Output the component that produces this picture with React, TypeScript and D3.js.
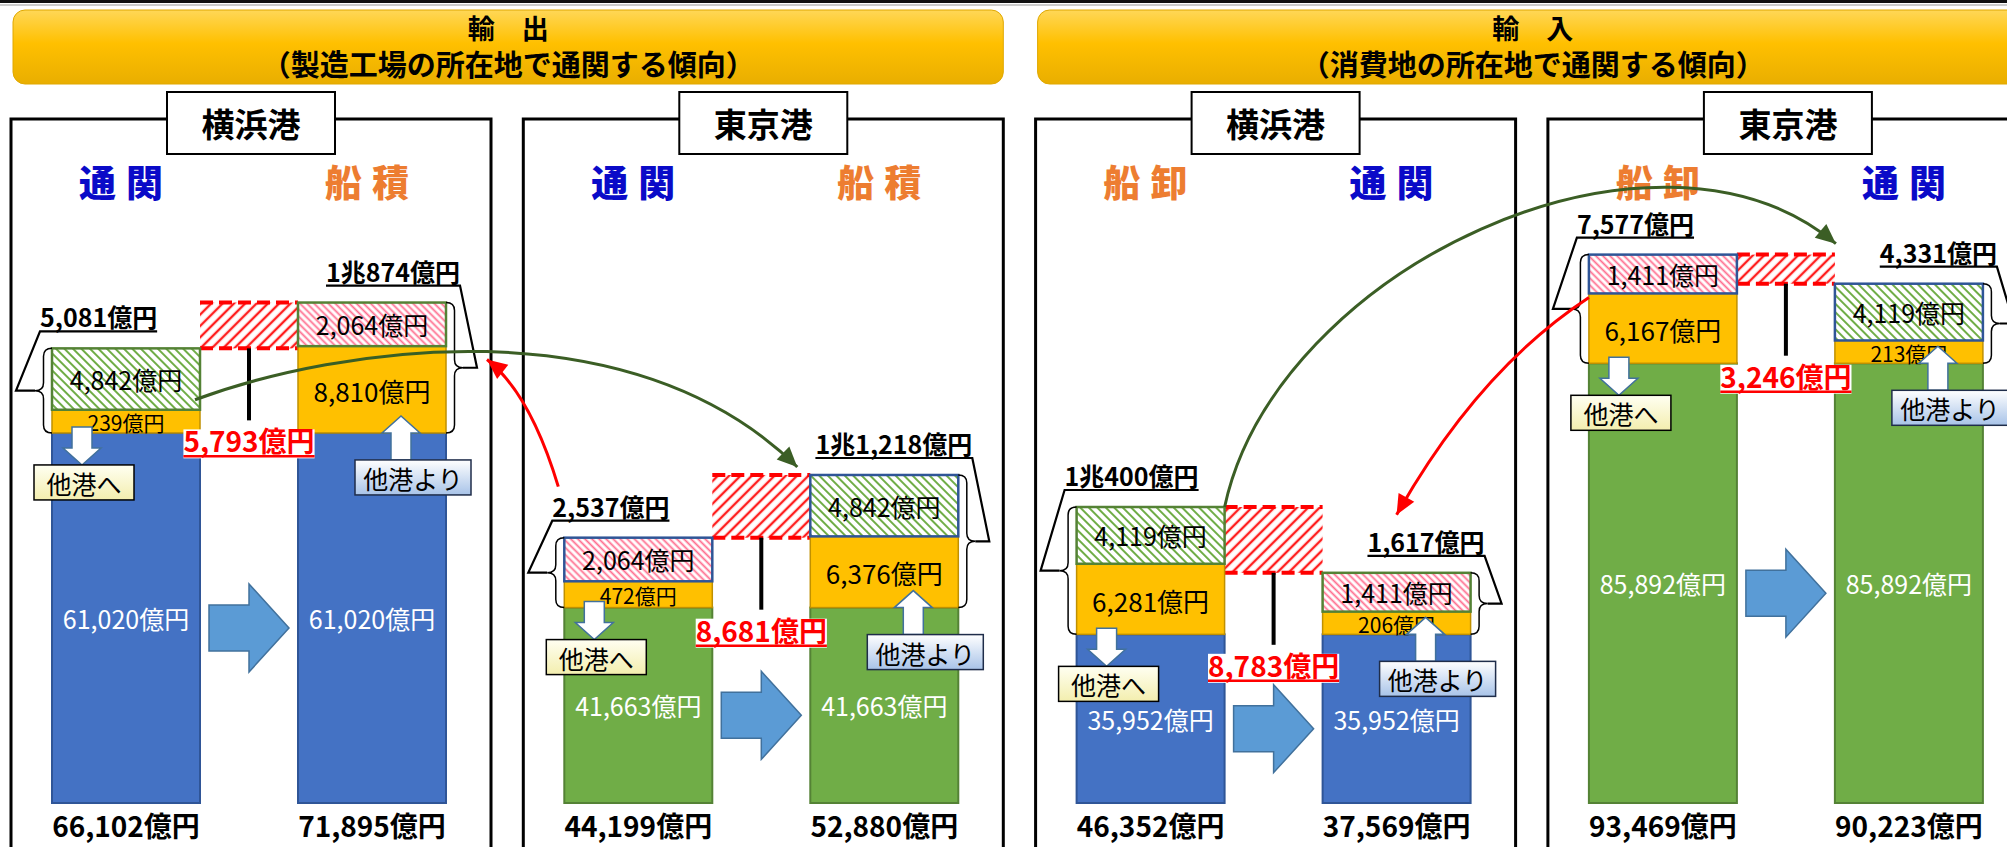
import React, { useEffect, useRef } from 'react';
import * as d3 from 'd3';

const W = 2007;
const H = 847;

// header bands
const headerTitles = ['輸　出', '輸　入'];
const headerNotes = ['（製造工場の所在地で通関する傾向）', '（消費地の所在地で通関する傾向）'];

// one entry per panel (left column, right column)
const ports = ['横浜港', '東京港', '横浜港', '東京港'];
const stages = [['通関', '船積'], ['通関', '船積'], ['船卸', '通関'], ['船卸', '通関']];
const baseValues = [61020, 41663, 35952, 85892];
const yellowValues = [[239, 8810], [472, 6376], [6281, 206], [6167, 213]];
const hatchValues = [[4842, 2064], [2064, 4842], [4119, 1411], [1411, 4119]];
const hatchKinds = [['green', 'pink'], ['pink', 'green'], ['green', 'pink'], ['pink', 'green']];
const braceValues = [[5081, 10874], [2537, 11218], [10400, 1617], [7577, 4331]];
const totalValues = [[66102, 71895], [44199, 52880], [46352, 37569], [93469, 90223]];
const diffValues = [5793, 8681, 8783, 3246];
const toOther = '他港へ';
const fromOther = '他港より';

const FONT = "'Noto Sans CJK JP', 'Noto Sans', sans-serif";
const BOTTOM = 803;

const fmt = d3.format(',');
const yen = (v: number) => fmt(v) + '億円';
// brace amounts are written with 兆 once they pass 1万億
const yenCho = (v: number) =>
  (v >= 10000 ? `${Math.floor(v / 10000)}兆${fmt(v % 10000)}` : fmt(v)) + '億円';

const stageColor: Record<string, string> = { '通関': '#0A0AC8', '船積': '#ED7D31', '船卸': '#ED7D31' };

function bracePath(xt: number, xb: number, y1: number, y2: number) {
  const xm = (xt + xb) / 2;
  const ym = (y1 + y2) / 2;
  const r = Math.min(8, (y2 - y1) / 4);
  return `M${xb},${y1} Q${xm},${y1} ${xm},${y1 + r} L${xm},${ym - r} Q${xm},${ym} ${xt},${ym} ` +
    `Q${xm},${ym} ${xm},${ym + r} L${xm},${y2 - r} Q${xm},${y2} ${xb},${y2}`;
}

function blockArrow(cx: number, cy: number, w: number, h: number, stemH: number, headL: number) {
  const x0 = cx - w / 2, x1 = cx + w / 2, xh = x1 - headL;
  return `M${x0},${cy - stemH / 2} L${xh},${cy - stemH / 2} L${xh},${cy - h / 2} L${x1},${cy} ` +
    `L${xh},${cy + h / 2} L${xh},${cy + stemH / 2} L${x0},${cy + stemH / 2} Z`;
}

function vArrow(x: number, y0: number, y1: number, stemW: number, headW: number, headL: number) {
  const dir = Math.sign(y1 - y0);
  const yh = y1 - dir * headL;
  return `M${x - stemW / 2},${y0} L${x - stemW / 2},${yh} L${x - headW / 2},${yh} L${x},${y1} ` +
    `L${x + headW / 2},${yh} L${x + stemW / 2},${yh} L${x + stemW / 2},${y0} Z`;
}

export default function App() {
  const ref = useRef<SVGSVGElement>(null);

  useEffect(() => {
    const svg = d3.select(ref.current);
    svg.selectAll('*').remove();
    const defs = svg.append('defs');

    const hatch = (id: string, color: string, angle: number, gap: number, sw: number) => {
      const p = defs.append('pattern').attr('id', id).attr('patternUnits', 'userSpaceOnUse')
        .attr('width', gap).attr('height', gap).attr('patternTransform', `rotate(${angle})`);
      p.append('rect').attr('width', gap).attr('height', gap).attr('fill', '#fff');
      p.append('line').attr('x1', gap / 2).attr('x2', gap / 2).attr('y1', 0).attr('y2', gap)
        .attr('stroke', color).attr('stroke-width', sw);
    };
    hatch('hatch-green', '#70AD47', -45, 6, 2);
    hatch('hatch-pink', '#FF6D8E', -45, 5, 1.8);
    hatch('hatch-red', '#FF1E1E', 45, 8, 2.4);

    const grad = (id: string, stops: [string, string][]) => {
      const g = defs.append('linearGradient').attr('id', id).attr('x1', 0).attr('x2', 0).attr('y1', 0).attr('y2', 1);
      stops.forEach(([o, c]) => g.append('stop').attr('offset', o).attr('stop-color', c));
    };
    grad('gold', [['0%', '#FFD757'], ['45%', '#FFC000'], ['100%', '#E9AE00']]);
    grad('pale-yellow', [['0%', '#FFFFF2'], ['100%', '#F3EEAE']]);
    grad('pale-blue', [['0%', '#FFFFFF'], ['100%', '#A8C3E8']]);

    // top rule
    svg.append('rect').attr('x', 0).attr('y', 0).attr('width', W).attr('height', 3).attr('fill', '#111');
    svg.append('line').attr('x1', 0).attr('x2', W).attr('y1', 5).attr('y2', 5).attr('stroke', '#999');

    const xPanel = d3.scaleBand<number>().domain([0, 1, 2, 3])
      .range([11, 11 + 4 * 512.3 - 32.3]).paddingInner(32.3 / 512.3).paddingOuter(0);
    const pw = xPanel.bandwidth();
    const xBar = d3.scaleBand<number>().domain([0, 1]).range([41, 435]).paddingInner(98 / 246);
    const bw = xBar.bandwidth();
    const yBase = d3.scaleLinear().domain([0, 42000, 61000, 86000]).range([0, 197, 370, 440]);
    const ySeg = d3.scaleLinear().domain([0, 1500, 9000]).range([20, 40, 88]);

    // header bands
    headerTitles.forEach((t, k) => {
      const x0 = (xPanel(k * 2) as number) + 2;
      const x1 = (xPanel(k * 2 + 1) as number) + pw;
      const g = svg.append('g');
      g.append('rect').attr('x', x0).attr('y', 10).attr('width', x1 - x0).attr('height', 74)
        .attr('rx', 12).attr('fill', 'url(#gold)').attr('stroke', '#E0A800').attr('stroke-width', 1);
      const cx = (x0 + x1) / 2;
      g.append('text').attr('x', cx).attr('y', 39).attr('text-anchor', 'middle')
        .attr('font-family', FONT).attr('font-weight', 700).attr('font-size', 27).attr('fill', '#000').text(t);
      g.append('text').attr('x', cx).attr('y', 76).attr('text-anchor', 'middle')
        .attr('font-family', FONT).attr('font-weight', 700).attr('font-size', 29).attr('fill', '#000').text(headerNotes[k]);
    });

    const geo = ports.map((port, i) => {
      const px = xPanel(i) as number;
      return [0, 1].map((j) => {
        const x0 = px + (xBar(j) as number);
        const baseTop = BOTTOM - yBase(baseValues[i]);
        const yelTop = baseTop - ySeg(yellowValues[i][j]);
        const hatTop = yelTop - ySeg(hatchValues[i][j]);
        return { x0, baseTop, yelTop, hatTop };
      });
    });

    ports.forEach((port, i) => {
      const px = xPanel(i) as number;
      const g = svg.append('g');
      const yoko = port === '横浜港';
      const baseFill = yoko ? '#4472C4' : '#70AD47';
      const baseStroke = yoko ? '#2F5597' : '#548235';
      const hatchStroke = yoko ? '#548235' : '#2F5597';

      // frame + port title
      g.append('rect').attr('x', px).attr('y', 119).attr('width', pw).attr('height', 780)
        .attr('fill', 'none').attr('stroke', '#000').attr('stroke-width', 3);
      const cx = px + pw / 2;
      g.append('rect').attr('x', cx - 84).attr('y', 92).attr('width', 168).attr('height', 62)
        .attr('fill', '#fff').attr('stroke', '#000').attr('stroke-width', 2);
      g.append('text').attr('x', cx).attr('y', 123).attr('text-anchor', 'middle').attr('dominant-baseline', 'central')
        .attr('font-family', FONT).attr('font-weight', 700).attr('font-size', 33).text(port);

      const [a, b] = geo[i];
      // gap box between the two bar tops
      const gx0 = a.x0 + bw, gx1 = b.x0;
      const gy0 = Math.min(a.hatTop, b.hatTop), gy1 = Math.max(a.hatTop, b.hatTop);
      const gcx = (gx0 + gx1) / 2;
      g.append('rect').attr('x', gx0).attr('y', gy0).attr('width', gx1 - gx0).attr('height', gy1 - gy0)
        .attr('fill', 'url(#hatch-red)');
      [gy0, gy1].forEach((yy) => g.append('line').attr('x1', gx0).attr('x2', gx1).attr('y1', yy).attr('y2', yy)
        .attr('stroke', '#FF0000').attr('stroke-width', 4).attr('stroke-dasharray', '13 6'));
      g.append('line').attr('x1', gcx).attr('x2', gcx).attr('y1', gy1).attr('y2', gy1 + 72)
        .attr('stroke', '#000').attr('stroke-width', 4);

      // block arrow between bars
      const baseMid = (Math.max(a.baseTop, b.baseTop) + BOTTOM) / 2;
      g.append('path').attr('d', blockArrow(gcx, baseMid + 10, 80, 88, 46, 40))
        .attr('fill', '#5B9BD5').attr('stroke', '#41719C').attr('stroke-width', 1.5);

      [a, b].forEach((s, j) => {
        // stacked segments
        g.append('rect').attr('x', s.x0).attr('y', s.baseTop).attr('width', bw).attr('height', BOTTOM - s.baseTop)
          .attr('fill', baseFill).attr('stroke', baseStroke).attr('stroke-width', 2);
        g.append('rect').attr('x', s.x0).attr('y', s.yelTop).attr('width', bw).attr('height', s.baseTop - s.yelTop)
          .attr('fill', '#FFC000').attr('stroke', '#C09000').attr('stroke-width', 1.5);
        g.append('rect').attr('x', s.x0).attr('y', s.hatTop).attr('width', bw).attr('height', s.yelTop - s.hatTop)
          .attr('fill', `url(#hatch-${hatchKinds[i][j]})`).attr('stroke', hatchStroke).attr('stroke-width', 2.5);

        const bcx = s.x0 + bw / 2;
        const label = (y: number, txt: string, size: number, color: string, weight = 400) =>
          g.append('text').attr('x', bcx).attr('y', y).attr('text-anchor', 'middle').attr('dominant-baseline', 'central')
            .attr('font-family', FONT).attr('font-size', size).attr('font-weight', weight).attr('fill', color).text(txt);
        label((s.baseTop + BOTTOM) / 2, yen(baseValues[i]), 25, '#fff');
        const yh = s.baseTop - s.yelTop;
        label((s.baseTop + s.yelTop) / 2 + 1, yen(yellowValues[i][j]), yh < 30 ? 21 : 26, '#000');
        label((s.yelTop + s.hatTop) / 2, yen(hatchValues[i][j]), 25, '#000');
        label(825, yen(totalValues[i][j]), 28, '#000', 700);

        // stage heading
        g.append('text').attr('x', bcx).attr('y', 181).attr('text-anchor', 'middle').attr('dominant-baseline', 'central')
          .attr('font-family', FONT).attr('font-weight', 900).attr('font-size', 37).attr('letter-spacing', 10)
          .attr('fill', stageColor[stages[i][j]]).text(stages[i][j]);

        // brace + amount above
        const ul = s.hatTop - 17;
        const tipY = (s.hatTop + s.baseTop) / 2;
        const bt = g.append('text').attr('y', ul - 4).attr('font-family', FONT).attr('font-weight', 700)
          .attr('font-size', 25).attr('fill', '#000').text(yenCho(braceValues[i][j]));
        const tw = (bt.node() as SVGTextElement).getComputedTextLength();
        if (j === 0) {
          const lx = s.x0 - 12;
          bt.attr('x', lx);
          g.append('path').attr('d', bracePath(s.x0 - 17, s.x0, s.hatTop, s.baseTop))
            .attr('fill', 'none').attr('stroke', '#000').attr('stroke-width', 1.5);
          g.append('path').attr('d', `M${lx + tw},${ul} L${lx},${ul} L${s.x0 - 36},${tipY} L${s.x0 - 17},${tipY}`)
            .attr('fill', 'none').attr('stroke', '#000').attr('stroke-width', 2.2);
        } else {
          const rx = s.x0 + bw + 14;
          bt.attr('x', rx).attr('text-anchor', 'end');
          g.append('path').attr('d', bracePath(s.x0 + bw + 17, s.x0 + bw, s.hatTop, s.baseTop))
            .attr('fill', 'none').attr('stroke', '#000').attr('stroke-width', 1.5);
          g.append('path').attr('d', `M${rx - tw},${ul} L${rx},${ul} L${s.x0 + bw + 31},${tipY} L${s.x0 + bw + 17},${tipY}`)
            .attr('fill', 'none').attr('stroke', '#000').attr('stroke-width', 2.2);
        }
      });

      // difference amount, on a white patch over the bars
      const dy = gy1 + 104;
      const dt = g.append('text').attr('x', gcx).attr('y', dy).attr('text-anchor', 'middle')
        .attr('font-family', FONT).attr('font-weight', 700).attr('font-size', 28).attr('fill', '#FF0000')
        .text(yen(diffValues[i]));
      const dw = (dt.node() as SVGTextElement).getComputedTextLength();
      g.insert('rect', () => dt.node() as Element).attr('x', gcx - dw / 2).attr('y', dy - 23)
        .attr('width', dw).attr('height', 29).attr('fill', '#fff');
      g.append('line').attr('x1', gcx - dw / 2).attr('x2', gcx + dw / 2).attr('y1', dy + 4).attr('y2', dy + 4)
        .attr('stroke', '#FF0000').attr('stroke-width', 2.5);

      // to other port (left column)
      const ax = a.x0 + 30;
      const boxTop = a.baseTop + 32;
      g.append('path').attr('d', vArrow(ax, a.baseTop - 6, boxTop, 20, 38, 17))
        .attr('fill', '#fff').attr('stroke', '#41719C').attr('stroke-width', 1.5);
      g.append('rect').attr('x', a.x0 - 18).attr('y', boxTop).attr('width', 100).attr('height', 35)
        .attr('fill', 'url(#pale-yellow)').attr('stroke', '#000').attr('stroke-width', 1.5);
      g.append('text').attr('x', a.x0 + 32).attr('y', boxTop + 18).attr('text-anchor', 'middle')
        .attr('dominant-baseline', 'central').attr('font-family', FONT).attr('font-size', 25).text(toOther);

      // from other port (right column)
      const by = b.baseTop + 27;
      const bxr = b.x0 + bw + 25;
      g.append('path').attr('d', vArrow(b.x0 + bw - 45, by, by - 44, 20, 38, 17))
        .attr('fill', '#fff').attr('stroke', '#41719C').attr('stroke-width', 1.5);
      g.append('rect').attr('x', bxr - 116).attr('y', by).attr('width', 116).attr('height', 35)
        .attr('fill', 'url(#pale-blue)').attr('stroke', '#1F2D4A').attr('stroke-width', 1.5);
      g.append('text').attr('x', bxr - 58).attr('y', by + 18).attr('text-anchor', 'middle')
        .attr('dominant-baseline', 'central').attr('font-family', FONT).attr('font-size', 25).text(fromOther);
    });

    // curved flow arrows between ports
    const curve = (pts: [number, number][], color: string) => {
      const p = d3.path();
      p.moveTo(pts[0][0], pts[0][1]);
      if (pts.length === 3) p.quadraticCurveTo(pts[1][0], pts[1][1], pts[2][0], pts[2][1]);
      else p.bezierCurveTo(pts[1][0], pts[1][1], pts[2][0], pts[2][1], pts[3][0], pts[3][1]);
      svg.append('path').attr('d', p.toString()).attr('fill', 'none').attr('stroke', color).attr('stroke-width', 3);
      const [ex, ey] = pts[pts.length - 1];
      const [cx, cy] = pts[pts.length - 2];
      const len = Math.hypot(ex - cx, ey - cy);
      const ux = (ex - cx) / len, uy = (ey - cy) / len;
      const bx = ex - ux * 20, by = ey - uy * 20;
      svg.append('path').attr('d', `M${ex},${ey} L${bx - uy * 9},${by + ux * 9} L${bx + uy * 9},${by - ux * 9} Z`)
        .attr('fill', color);
    };
    const s00 = geo[0][0], s01 = geo[0][1], s10 = geo[1][0], s11 = geo[1][1];
    const s20 = geo[2][0], s21 = geo[2][1], s30 = geo[3][0], s31 = geo[3][1];
    const g1s: [number, number] = [s00.x0 + bw - 5, s00.yelTop - 10];
    const g1e: [number, number] = [s11.x0 - 13, s11.hatTop - 8];
    curve([g1s, [g1s[0] + 143, g1s[1] - 53], [g1e[0] - 168, g1e[1] - 165], g1e], '#3B5E25');
    const r1s: [number, number] = [s10.x0 - 6, s10.hatTop - 51];
    const r1e: [number, number] = [s01.x0 + bw + 41, s01.hatTop + 57];
    curve([r1s, [r1s[0] - 28, r1s[1] - 93], r1e], '#FF0000');
    const g2s: [number, number] = [s20.x0 + bw, s20.hatTop];
    const g2e: [number, number] = [s31.x0 + 1, s31.hatTop - 40];
    curve([g2s, [g2s[0] + 51, g2s[1] - 238], [g2e[0] - 182, g2e[1] - 152], g2e], '#3B5E25');
    const r2s: [number, number] = [s30.x0, s30.yelTop + 4];
    const r2e: [number, number] = [s21.x0 + 74, s21.hatTop - 58];
    curve([r2s, [r2s[0] - 111, r2s[1] + 73], r2e], '#FF0000');
  }, []);

  return (
    <svg ref={ref} width={W} height={H}
      style={{ position: 'absolute', left: 0, top: 0, background: '#fff', display: 'block' }} />
  );
}
